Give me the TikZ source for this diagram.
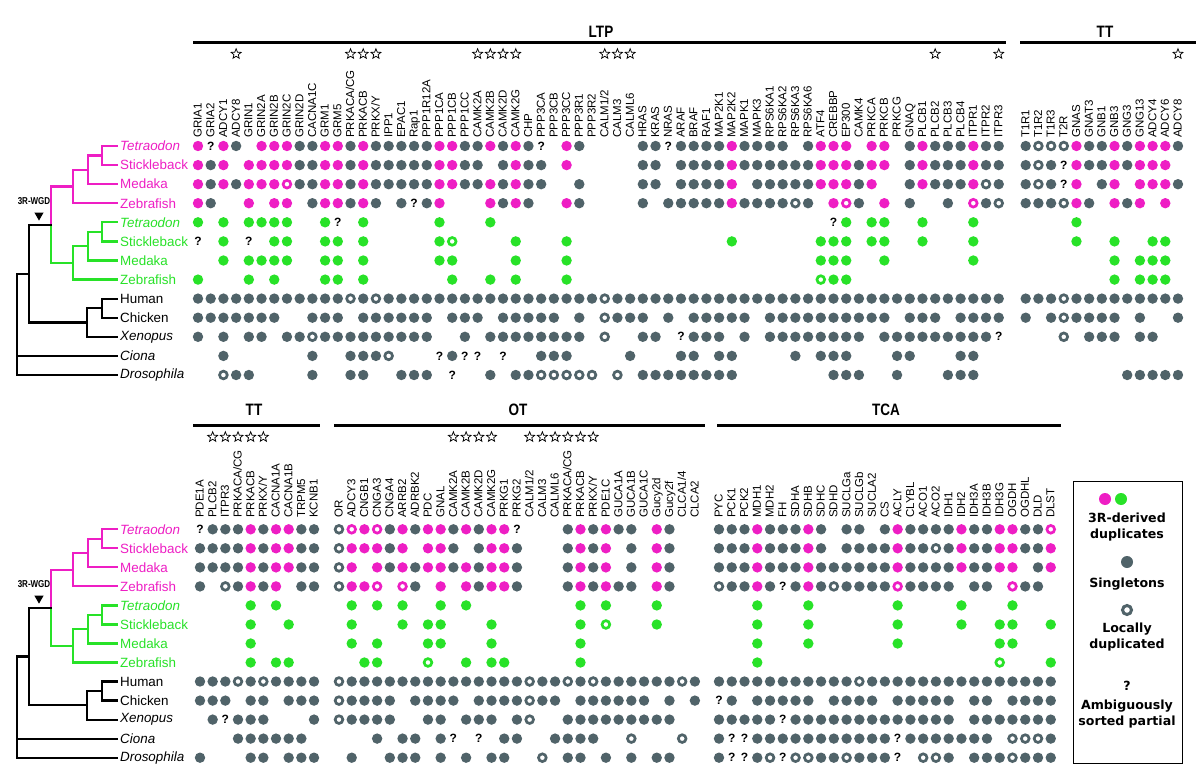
\documentclass[tikz,border=0pt]{standalone}
\usepackage{fontspec}
\setmainfont{Liberation Sans}
\newfontfamily\dejavu{DejaVu Sans}
\usetikzlibrary{shapes.geometric}
\definecolor{pinkc}{RGB}{238,30,196}
\definecolor{greenc}{RGB}{40,226,40}
\definecolor{grayc}{RGB}{80,99,105}
\tikzset{
 treeline/.style={line width=2.2pt, line join=miter, line cap=rect},
 splab/.style={anchor=west, inner sep=0pt, font=\fontsize{13.4}{14}\selectfont},
 genelab/.style={rotate=90, anchor=mid west, inner sep=0pt, font=\fontsize{11.5}{12}\selectfont},
 hdr/.style={font=\bfseries\fontsize{16.5}{17}\selectfont, xscale=0.82, inner sep=0pt},
 starlab/.style={star, star points=5, star point ratio=2.3, draw=black, line width=0.75pt, minimum size=10.5pt, inner sep=0pt},
 qmark/.style={font=\bfseries\fontsize{12}{12}\selectfont, inner sep=0pt},
 legtext/.style={font=\dejavu\bfseries\fontsize{12.6}{15.5}\selectfont, align=center, inner sep=0pt},
 wgdlab/.style={font=\bfseries\fontsize{10}{10}\selectfont, xscale=0.8, inner sep=0pt},
}
\expandafter\newcommand\csname dotcellp\endcsname[2]{\fill[pinkc] (#1,#2) circle[radius=5.2pt];}
\expandafter\newcommand\csname dotcellm\endcsname[2]{\draw[pinkc,line width=2.7pt] (#1,#2) circle[radius=3.85pt];}
\expandafter\newcommand\csname dotcellg\endcsname[2]{\fill[greenc] (#1,#2) circle[radius=5.2pt];}
\expandafter\newcommand\csname dotcellh\endcsname[2]{\draw[greenc,line width=2.7pt] (#1,#2) circle[radius=3.85pt];}
\expandafter\newcommand\csname dotcelld\endcsname[2]{\fill[grayc] (#1,#2) circle[radius=5.2pt];}
\expandafter\newcommand\csname dotcello\endcsname[2]{\draw[grayc,line width=2.7pt] (#1,#2) circle[radius=3.85pt];}
\expandafter\newcommand\csname dotcellq\endcsname[2]{\node[qmark] at (#1,#2) {?};}
\expandafter\newcommand\csname dotcellx\endcsname[2]{}
\newcommand\dotrow[4]{\foreach \c [count=\n from 0] in {#4} {\pgfmathsetmacro\xx{#1+\n*#2}\csname dotcell\c\endcsname{\xx}{#3}}}
\newcommand\genelabels[4]{\foreach \g [count=\n from 0] in {#4} {\pgfmathsetmacro\xx{#1+\n*#2+1}\node[genelab] at (\xx,#3) {\g};}}
\newcommand\starsat[4]{\foreach \n in {#4} {\pgfmathsetmacro\xx{#1+\n*#2}\node[starlab] at (\xx,#3) {};}}
\newcommand\drawtree[2]{%
 \pgfmathsetmacro\yA{#1}\pgfmathsetmacro\yB{#1+#2}\pgfmathsetmacro\yC{#1+2*#2}\pgfmathsetmacro\yD{#1+3*#2}
 \pgfmathsetmacro\yE{#1+4*#2}\pgfmathsetmacro\yF{#1+5*#2}\pgfmathsetmacro\yG{#1+6*#2}\pgfmathsetmacro\yH{#1+7*#2}
 \pgfmathsetmacro\yI{#1+8*#2}\pgfmathsetmacro\yJ{#1+9*#2}\pgfmathsetmacro\yK{#1+10*#2}\pgfmathsetmacro\yL{#1+11*#2}
 \pgfmathsetmacro\yM{#1+12*#2}
 \pgfmathsetmacro\tpa{(\yA+\yB)/2}\pgfmathsetmacro\tpb{(\tpa+\yC)/2}\pgfmathsetmacro\tpc{(\tpb+\yD)/2}
 \pgfmathsetmacro\tga{(\yE+\yF)/2}\pgfmathsetmacro\tgb{(\tga+\yG)/2}\pgfmathsetmacro\tgc{(\tgb+\yH)/2}
 \pgfmathsetmacro\twgd{(\tpc+\tgc)/2}
 \pgfmathsetmacro\tha{(\yI+\yJ)/2}\pgfmathsetmacro\thb{(\tha+\yK)/2}\pgfmathsetmacro\tvt{(\twgd+\thb)/2}
 \begin{scope}[treeline,pinkc]
  \draw (117,\yA) -- (102,\yA) -- (102,\yB) -- (117,\yB);
  \draw (102,\tpa) -- (88,\tpa) -- (88,\yC) -- (117,\yC);
  \draw (88,\tpb) -- (73,\tpb) -- (73,\yD) -- (117,\yD);
  \draw (73,\tpc) -- (51,\tpc) -- (51,\twgd);
 \end{scope}
 \begin{scope}[treeline,greenc]
  \draw (117,\yE) -- (102,\yE) -- (102,\yF) -- (117,\yF);
  \draw (102,\tga) -- (88,\tga) -- (88,\yG) -- (117,\yG);
  \draw (88,\tgb) -- (73,\tgb) -- (73,\yH) -- (117,\yH);
  \draw (73,\tgc) -- (51,\tgc) -- (51,\twgd);
 \end{scope}
 \begin{scope}[treeline,black]
  \draw (51,\twgd) -- (29,\twgd) -- (29,\thb) -- (87,\thb);
  \draw (117,\yI) -- (102,\yI) -- (102,\yJ) -- (117,\yJ);
  \draw (102,\tha) -- (87,\tha) -- (87,\yK) -- (117,\yK);
  \draw (29,\tvt) -- (17,\tvt) -- (17,\yM) -- (117,\yM);
  \draw (17,\yL) -- (117,\yL);
 \end{scope}
 \pgfmathsetmacro\ttri{\twgd-9.5}\pgfmathsetmacro\tlab{\twgd-24}
 \node[wgdlab] at (34,\tlab) {3R-WGD};
 \node[isosceles triangle, shape border rotate=-90, isosceles triangle apex angle=60, fill=black, inner sep=0pt, minimum height=8pt, minimum width=8pt] at (39,\ttri) {};
 \node[splab,pinkc] at (120,\yA) {\itshape Tetraodon};
 \node[splab,pinkc] at (120,\yB) {Stickleback};
 \node[splab,pinkc] at (120,\yC) {Medaka};
 \node[splab,pinkc] at (120,\yD) {Zebrafish};
 \node[splab,greenc] at (120,\yE) {\itshape Tetraodon};
 \node[splab,greenc] at (120,\yF) {Stickleback};
 \node[splab,greenc] at (120,\yG) {Medaka};
 \node[splab,greenc] at (120,\yH) {Zebrafish};
 \node[splab] at (120,\yI) {Human};
 \node[splab] at (120,\yJ) {Chicken};
 \node[splab] at (120,\yK) {\itshape Xenopus};
 \node[splab] at (120,\yL) {\itshape Ciona};
 \node[splab] at (120,\yM) {\itshape Drosophila};
}
\begin{document}
\begin{tikzpicture}[x=1pt,y=-1pt]
\useasboundingbox (0,0) rectangle (1200,776);
\fill[white] (0,0) rectangle (1200,776);
% ---------- headers ----------
\draw[line width=3pt] (193,43) -- (1006,43);
\draw[line width=3pt] (1020,43) -- (1196,43);
\node[hdr] (hLTP) at (601,32) {LTP};
\node[hdr] (hTT1) at (1105,32) {TT};
\draw[line width=3pt] (193,425) -- (320,425);
\draw[line width=3pt] (334,425) -- (705,425);
\draw[line width=3pt] (717,425) -- (1061,425);
\node[hdr] (hTT2) at (254,410) {TT};
\node[hdr] (hOT) at (518,410) {OT};
\node[hdr] (hTCA) at (886,410) {TCA};
% stars
\starsat{198}{12.71}{54}{3,12,13,14,22,23,24,25,32,33,34,58,63}
\starsat{1025.7}{12.69}{54}{12}
\starsat{200}{12.67}{437}{1,2,3,4,5}
\starsat{339}{12.71}{437}{9,10,11,12,15,16,17,18,19,20}
% ---------- gene labels ----------
\genelabels{198}{12.71}{138}{GRIA1,GRIA2,ADCY1,ADCY8,GRIN1,GRIN2A,GRIN2B,GRIN2C,GRIN2D,CACNA1C,GRM1,GRM5,PRKACA/CG,PRKACB,PRKX/Y,IPP1,EPAC1,Rap1,PPP1R12A,PPP1CA,PPP1CB,PPP1CC,CAMK2A,CAMK2B,CAMK2D,CAMK2G,CHP,PPP3CA,PPP3CB,PPP3CC,PPP3R1,PPP3R2,CALM1/2,CALM3,CALML6,HRAS,KRAS,NRAS,ARAF,BRAF,RAF1,MAP2K1,MAP2K2,MAPK1,MAPK3,RPS6KA1,RPS6KA2,RPS6KA3,RPS6KA6,ATF4,CREBBP,EP300,CAMK4,PRKCA,PRKCB,PRKCG,GNAQ,PLCB1,PLCB2,PLCB3,PLCB4,ITPR1,ITPR2,ITPR3}
\genelabels{1025.7}{12.69}{138}{T1R1,T1R2,T1R3,T2R,GNAS,GNAT3,GNB1,GNB3,GNG3,GNG13,ADCY4,ADCY6,ADCY8}
\genelabels{200}{12.67}{518}{PDE1A,PLCB2,ITPR3,PRKACA/CG,PRKACB,PRKX/Y,CACNA1A,CACNA1B,TRPM5,KCNB1}
\genelabels{339}{12.71}{518}{OR,ADCY3,CNGB1,CNGA3,CNGA4,ARRB2,ADRBK2,PDC,GNAL,CAMK2A,CAMK2B,CAMK2D,CAMK2G,PRKG1,PRKG2,CALM1/2,CALM3,CALML6,PRKACA/CG,PRKACB,PRKX/Y,PDE1C,GUCA1A,GUCA1B,GUCA1C,Gucy2d,Gucy2f,CLCA1/4,CLCA2}
\genelabels{719}{12.76}{518}{PYC,PCK1,PCK2,MDH1,MDH2,FH,SDHA,SDHB,SDHC,SDHD,SUCLGa,SUCLGb,SUCLA2,CS,ACLY,CLYBL,ACO1,ACO2,IDH1,IDH2,IDH3A,IDH3B,IDH3G,OGDH,OGDHL,DLD,DLST}
% ---------- trees ----------
\drawtree{146}{19.083}
\drawtree{529.3}{19.03}
% ---------- top LTP ----------
\dotrow{198}{12.71}{146.0}{p,q,p,d,x,p,p,p,d,d,p,p,d,p,d,d,d,d,d,p,p,d,d,p,d,p,d,q,x,p,d,x,x,x,x,d,d,q,d,d,d,d,p,d,d,d,d,x,d,p,p,p,x,p,p,x,d,p,d,d,d,p,d,d}
\dotrow{198}{12.71}{165.1}{p,d,p,x,p,p,p,p,d,d,p,p,d,p,d,d,d,d,d,p,p,d,d,x,d,p,d,d,x,p,x,x,x,x,x,d,d,x,d,d,d,d,p,d,d,d,d,d,d,p,p,p,d,p,p,x,d,p,d,d,d,p,d,d}
\dotrow{198}{12.71}{184.2}{p,d,p,d,p,p,p,m,d,d,p,p,d,p,d,d,d,d,d,p,p,d,d,p,d,p,d,d,x,x,d,x,x,x,x,d,d,x,d,d,d,d,p,x,d,d,d,d,d,p,p,p,d,p,x,x,d,p,d,d,d,p,o,d}
\dotrow{198}{12.71}{203.2}{p,d,x,x,p,x,p,p,x,d,p,p,d,p,d,x,d,q,d,p,x,x,x,p,d,p,d,x,x,p,d,x,x,x,x,d,x,d,d,d,d,d,p,d,d,d,d,o,d,x,p,m,d,x,p,x,d,x,x,d,x,m,d,o}
\dotrow{198}{12.71}{222.3}{g,x,g,x,g,g,g,g,x,x,g,q,x,g,x,x,x,x,x,g,x,x,x,g,x,x,x,x,x,x,x,x,x,x,x,x,x,x,x,x,x,x,x,x,x,x,x,x,x,x,q,g,x,g,g,x,x,g,x,x,x,g,x,x}
\dotrow{198}{12.71}{241.4}{q,x,g,x,q,x,g,g,x,x,g,g,x,g,x,x,x,x,x,g,h,x,x,x,x,g,x,x,x,g,x,x,x,x,x,x,x,x,x,x,x,x,g,x,x,x,x,x,x,g,g,g,x,g,g,x,x,g,x,x,x,g,x,x}
\dotrow{198}{12.71}{260.5}{x,x,g,x,g,g,g,g,x,x,g,g,x,g,x,x,x,x,x,g,g,x,x,x,x,g,x,x,x,g,x,x,x,x,x,x,x,x,x,x,x,x,x,x,x,x,x,x,x,g,g,g,x,x,g,x,x,x,x,x,x,g,x,x}
\dotrow{198}{12.71}{279.6}{g,x,x,x,g,x,g,x,x,x,g,g,x,g,x,x,x,x,x,x,g,x,x,g,x,g,x,x,x,g,x,x,x,x,x,x,x,x,x,x,x,x,x,x,x,x,x,x,x,h,g,g,x,x,x,x,x,x,x,x,x,x,x,x}
\dotrow{198}{12.71}{298.6}{d,d,d,d,d,d,d,d,d,d,d,d,o,d,o,d,d,d,d,d,d,d,d,d,d,d,d,d,d,d,d,d,o,d,d,d,d,d,d,d,d,d,d,d,d,d,d,d,d,d,d,d,d,d,d,d,d,d,d,d,d,d,d,d}
\dotrow{198}{12.71}{317.7}{d,d,d,d,d,d,d,x,x,d,d,d,x,d,d,d,d,d,d,x,d,d,d,x,d,d,d,d,d,x,d,x,o,d,d,d,x,d,x,d,d,d,d,d,x,d,d,d,d,d,d,d,d,d,d,x,d,d,d,x,d,d,d,d}
\dotrow{198}{12.71}{336.8}{d,x,d,x,d,d,x,d,d,o,d,d,d,d,d,d,d,d,d,x,x,d,x,d,d,d,d,d,d,d,d,x,o,x,x,d,d,x,q,d,d,d,x,d,x,d,d,d,d,d,d,d,d,x,d,d,d,d,d,d,d,d,d,q}
\dotrow{198}{12.71}{355.9}{x,x,d,x,x,x,x,x,x,d,x,x,d,d,d,o,x,x,x,q,d,q,q,x,q,x,x,d,d,d,x,x,x,x,d,x,x,x,d,d,x,d,d,x,x,x,x,d,x,d,d,d,x,x,x,d,d,x,x,x,d,d,x,x}
\dotrow{198}{12.71}{375.0}{x,x,o,d,d,x,x,x,x,d,x,x,d,d,x,x,d,d,d,x,q,x,x,d,x,d,d,o,o,o,o,o,x,o,x,d,d,d,d,d,d,d,d,x,x,x,x,x,x,x,d,d,d,x,x,d,x,x,x,d,d,d,x,x}
% ---------- top TT ----------
\dotrow{1025.7}{12.69}{146.0}{d,o,o,o,p,d,d,p,d,p,p,p,d}
\dotrow{1025.7}{12.69}{165.1}{d,o,d,q,p,d,d,p,d,p,p,p,x}
\dotrow{1025.7}{12.69}{184.2}{d,o,d,q,p,x,d,p,x,p,p,p,d}
\dotrow{1025.7}{12.69}{203.2}{d,d,d,o,p,d,x,p,d,p,x,p,x}
\dotrow{1025.7}{12.69}{222.3}{x,x,x,x,g,x,x,x,x,x,x,x,x}
\dotrow{1025.7}{12.69}{241.4}{x,x,x,x,g,x,x,g,x,x,g,g,x}
\dotrow{1025.7}{12.69}{260.5}{x,x,x,x,x,x,x,g,x,g,g,g,x}
\dotrow{1025.7}{12.69}{279.6}{x,x,x,x,x,x,x,g,x,g,g,g,x}
\dotrow{1025.7}{12.69}{298.6}{d,d,d,o,d,d,d,d,d,d,d,d,d}
\dotrow{1025.7}{12.69}{317.7}{d,x,d,o,d,d,d,d,x,d,x,x,d}
\dotrow{1025.7}{12.69}{336.8}{x,x,x,o,x,d,d,d,x,d,d,x,x}
\dotrow{1025.7}{12.69}{375.0}{x,x,x,x,x,x,x,x,d,d,d,d,d}
% ---------- bottom TT ----------
\dotrow{200}{12.67}{529.3}{q,d,d,d,p,d,p,p,d,d}
\dotrow{200}{12.67}{548.3}{d,d,d,d,p,d,p,p,d,d}
\dotrow{200}{12.67}{567.4}{d,d,d,d,p,d,p,p,d,d}
\dotrow{200}{12.67}{586.4}{d,x,o,d,p,d,p,x,d,d}
\dotrow{200}{12.67}{605.4}{x,x,x,x,g,x,g,x,x,x}
\dotrow{200}{12.67}{624.5}{x,x,x,x,g,x,x,g,x,x}
\dotrow{200}{12.67}{643.5}{x,x,x,x,g,x,x,x,x,x}
\dotrow{200}{12.67}{662.5}{x,x,x,x,g,x,g,g,x,x}
\dotrow{200}{12.67}{681.5}{d,d,d,o,d,o,d,d,d,d}
\dotrow{200}{12.67}{700.6}{d,d,d,x,d,d,x,d,d,d}
\dotrow{200}{12.67}{719.6}{x,d,q,d,d,d,x,x,x,d}
\dotrow{200}{12.67}{738.6}{x,x,x,d,d,d,d,d,d,x}
\dotrow{200}{12.67}{757.7}{d,x,x,x,d,d,x,d,d,d}
% ---------- OT ----------
\dotrow{339}{12.71}{529.3}{o,m,p,m,d,p,d,p,p,d,p,d,p,p,q,x,x,x,d,p,d,p,d,d,x,p,d,x,x}
\dotrow{339}{12.71}{548.3}{o,p,p,p,d,p,x,p,p,d,x,d,p,p,d,x,x,x,d,p,d,p,x,d,x,p,d,x,x}
\dotrow{339}{12.71}{567.4}{o,p,x,p,d,p,d,p,p,d,p,d,p,p,d,x,x,x,d,p,d,p,x,d,x,p,d,x,x}
\dotrow{339}{12.71}{586.4}{o,p,p,m,x,m,d,x,p,x,p,d,p,p,d,x,x,x,d,p,d,p,d,d,x,p,d,x,x}
\dotrow{339}{12.71}{605.4}{x,g,x,g,x,g,x,x,g,x,g,x,x,x,x,x,x,x,x,g,x,g,x,x,x,g,x,x,x}
\dotrow{339}{12.71}{624.5}{x,g,x,x,x,g,x,g,g,x,x,x,g,x,x,x,x,x,x,g,x,h,x,x,x,g,x,x,x}
\dotrow{339}{12.71}{643.5}{x,g,x,g,x,x,x,g,g,x,x,x,g,x,x,x,x,x,x,g,x,x,x,x,x,x,x,x,x}
\dotrow{339}{12.71}{662.5}{x,x,g,g,x,x,x,h,x,x,g,x,g,g,x,x,x,x,x,g,x,x,x,x,x,x,x,x,x}
\dotrow{339}{12.71}{681.5}{o,d,d,d,d,d,d,d,d,d,d,d,d,d,d,o,d,d,o,d,o,d,d,d,d,d,d,o,d}
\dotrow{339}{12.71}{700.6}{o,d,d,d,d,x,d,d,d,d,x,d,d,d,d,o,d,d,x,d,d,d,d,d,d,x,d,x,d}
\dotrow{339}{12.71}{719.6}{o,d,d,d,d,x,x,d,d,x,d,d,d,x,d,o,x,x,d,d,d,d,d,d,d,d,d,x,x}
\dotrow{339}{12.71}{738.6}{x,x,x,d,x,d,d,x,d,q,x,q,x,d,d,x,x,d,d,d,d,x,x,o,x,x,x,o,x}
\dotrow{339}{12.71}{757.7}{x,d,x,x,d,d,d,x,d,x,d,x,d,d,x,x,o,x,d,d,x,d,x,d,x,d,d,x,x}
% ---------- TCA ----------
\dotrow{719}{12.76}{529.3}{d,d,d,p,d,d,d,p,d,x,d,d,x,d,p,d,d,d,d,p,d,d,p,p,d,d,m}
\dotrow{719}{12.76}{548.3}{d,d,d,p,d,d,d,p,d,x,d,d,d,d,p,d,d,o,d,p,d,d,p,p,d,d,p}
\dotrow{719}{12.76}{567.4}{d,d,d,p,d,d,d,p,d,d,d,d,d,d,p,d,d,d,d,p,d,d,p,p,x,d,p}
\dotrow{719}{12.76}{586.4}{o,d,d,p,d,q,d,p,d,o,d,d,d,d,m,d,d,d,d,x,d,d,x,m,d,d,x}
\dotrow{719}{12.76}{605.4}{x,x,x,g,x,x,x,g,x,x,x,x,x,x,g,x,x,x,x,g,x,x,x,g,x,x,x}
\dotrow{719}{12.76}{624.5}{x,x,x,g,x,x,x,g,x,x,x,x,x,x,g,x,x,x,x,g,x,x,g,g,x,x,g}
\dotrow{719}{12.76}{643.5}{x,x,x,g,x,x,x,g,x,x,x,x,x,x,g,x,x,x,x,x,x,x,g,g,x,x,x}
\dotrow{719}{12.76}{662.5}{x,x,x,g,x,x,x,x,x,x,x,x,x,x,x,x,x,x,x,x,x,x,h,x,x,x,g}
\dotrow{719}{12.76}{681.5}{d,d,d,d,d,d,d,d,d,d,d,o,d,d,d,d,d,d,d,d,d,d,d,d,d,d,d}
\dotrow{719}{12.76}{700.6}{q,d,x,d,d,d,d,d,x,d,d,d,d,x,d,d,d,d,d,x,d,d,x,d,d,d,d}
\dotrow{719}{12.76}{719.6}{d,d,d,d,d,q,d,d,d,d,d,d,d,d,d,d,d,d,d,x,d,d,d,d,d,d,d}
\dotrow{719}{12.76}{738.6}{d,q,q,d,d,d,d,d,d,d,d,d,d,d,q,d,d,d,d,d,d,d,x,o,o,o,d}
\dotrow{719}{12.76}{757.7}{d,q,q,d,o,q,o,o,d,d,o,d,d,d,q,x,o,o,d,x,d,d,d,o,d,d,d}
% ---------- legend ----------
\draw[line width=1pt] (1073,481) rectangle (1182,763);
\fill[pinkc] (1105,499) circle[radius=6pt];
\fill[greenc] (1121,499) circle[radius=6pt];
\node[legtext] (l1) at (1127,527) {3R-derived\\duplicates};
\fill[grayc] (1127,562) circle[radius=6pt];
\node[legtext] (l2) at (1127,584) {Singletons};
\draw[grayc,line width=3pt] (1127,610) circle[radius=4.5pt];
\node[legtext] (l3) at (1127,637) {Locally\\duplicated};
\node[legtext] (lq) at (1127,686) {?};
\node[legtext] (l4) at (1127,714) {Ambiguously\\sorted partial};
\end{tikzpicture}
\end{document}
